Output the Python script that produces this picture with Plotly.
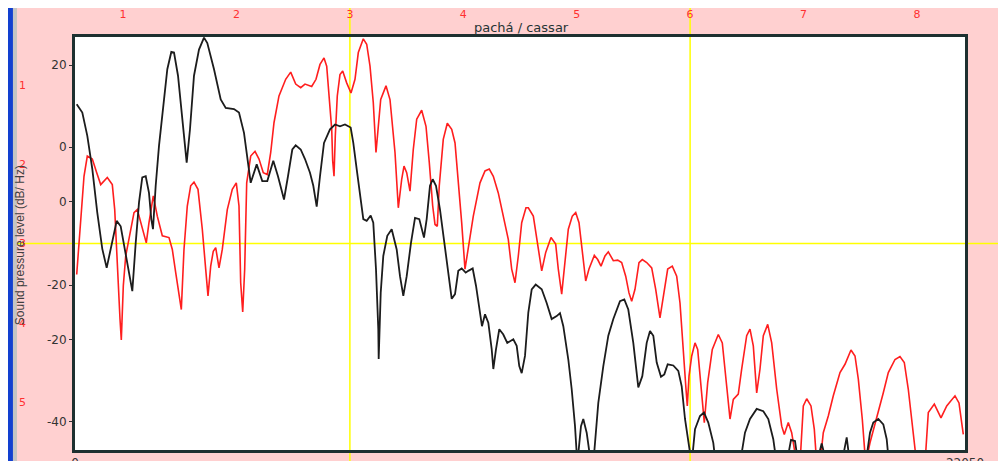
import plotly.graph_objects as go

# ---------------- data ----------------
freq_black = [42, 181, 305, 429, 552, 676, 785, 899, 1033, 1132, 1256, 1363, 1420, 1504, 1586, 1667, 1752, 1833,
              1890, 1932, 1999, 2081, 2163, 2287, 2386, 2453, 2552, 2658, 2767, 2849, 2948, 3072, 3196, 3278, 3444,
              3610, 3734, 3939, 4063, 4187, 4269, 4353, 4502, 4640, 4764, 4913, 5029, 5178, 5277, 5384, 5468, 5592,
              5698, 5822, 5904, 5988, 6070, 6169, 6318, 6442, 6565, 6689, 6830, 6895, 6979, 7061, 7143, 7227, 7326,
              7390, 7457, 7514, 7524, 7574, 7638, 7737, 7846, 7970, 8052, 8134, 8218, 8324, 8424, 8530, 8646, 8713,
              8795, 8862, 8944, 9043, 9142, 9224, 9333, 9415, 9496, 9580, 9680, 9744, 9853, 9935, 10017, 10083,
              10158, 10240, 10324, 10364, 10430, 10512, 10611, 10710, 10859, 10943, 11007, 11067, 11149, 11231,
              11315, 11414, 11563, 11686, 11810, 11934, 12016, 12098, 12222, 12306, 12388, 12445, 12536, 12593,
              12677, 12784, 12841, 12965, 13089, 13213, 13337, 13502, 13609, 13708, 13832, 13956, 14055, 14164,
              14246, 14328, 14412, 14518, 14600, 14684, 14823, 14947, 15031, 15113, 15212, 15279, 15361, 15484,
              15583, 15690, 15814, 15873, 16475, 16599, 16723, 16889, 17053, 17177, 17300, 17385, 17632, 17739,
              17838, 17920, 18376, 18499, 18623, 18995, 19119, 19201, 19589, 19696, 19778, 19902, 20026, 20110,
              20167, 22050]
level_black = [13.4, 12.0, 8.1, 2.5, -4.8, -10.9, -14.1, -10.4, -6.2, -7.1, -12.1, -16.0, -18.0, -9.9, -3.1, 1.1,
               1.3, -1.5, -5.9, -7.6, -0.3, 6.4, 12.0, 19.3, 22.2, 22.1, 18.2, 10.9, 3.6, 9.2, 18.2, 22.6, 24.6,
               23.7, 19.3, 14.2, 12.8, 12.6, 12.0, 8.6, 4.7, 0.2, 3.3, 0.5, 0.5, 3.9, 1.3, -2.6, 1.3, 5.8, 6.5, 5.8,
               4.2, 1.9, -0.3, -3.8, 1.3, 6.9, 9.2, 10.0, 9.7, 10.0, 9.5, 6.9, 2.5, -2.0, -5.9, -6.2, -5.3, -6.5,
               -14.3, -24.4, -29.4, -18.3, -12.1, -8.7, -7.6, -11.0, -15.5, -18.8, -15.5, -9.9, -5.7, -5.9, -9.0,
               -5.9, -0.3, 0.8, -0.3, -4.3, -9.3, -14.3, -19.3, -18.5, -14.6, -14.2, -14.9, -14.6, -14.2, -17.1,
               -21.1, -23.9, -21.9, -23.3, -27.8, -31.1, -27.8, -24.4, -25.3, -26.7, -26.1, -27.2, -30.6, -31.8,
               -28.9, -21.6, -17.7, -16.9, -17.7, -20.0, -22.7, -22.2, -21.7, -23.9, -29.5, -34.5, -40.7, -47,
               -40.7, -39.5, -41.8, -47, -47, -36.8, -30.6, -25.5, -22.7, -19.7, -19.4, -21.1, -26.7, -34.2, -32.3,
               -26.7, -24.7, -25.5, -30.0, -32.4, -32.0, -30.3, -30.5, -31.4, -34.0, -39.5, -44.0, -47, -41.2,
               -39.0, -38.4, -40.1, -43.5, -47, -47, -41.8, -39.5, -37.8, -38.2, -39.5, -42.9, -47, -47, -43.0,
               -43.2, -47, -47, -43.6, -47, -47, -42.6, -47, -47, -41.8, -40.1, -39.5, -40.4, -42.9, -47, -47]

freq_red = [42, 74, 141, 223, 305, 429, 538, 637, 800, 924, 984, 1048, 1115, 1147, 1197, 1256, 1363, 1462, 1543,
            1628, 1709, 1766, 1833, 1940, 2039, 2163, 2329, 2411, 2495, 2577, 2634, 2700, 2782, 2866, 2948, 3047,
            3154, 3238, 3295, 3362, 3426, 3486, 3568, 3649, 3773, 3897, 3996, 4063, 4105, 4155, 4204, 4254, 4353,
            4460, 4559, 4665, 4764, 4849, 4930, 5054, 5220, 5344, 5468, 5592, 5698, 5864, 5971, 6070, 6169, 6236,
            6300, 6360, 6384, 6417, 6449, 6498, 6565, 6632, 6731, 6838, 6937, 7019, 7143, 7227, 7309, 7390, 7457,
            7514, 7574, 7705, 7804, 7928, 8010, 8094, 8151, 8218, 8300, 8381, 8466, 8589, 8696, 8778, 8862, 8919,
            8976, 9025, 9124, 9224, 9333, 9415, 9496, 9580, 9662, 9744, 9868, 10034, 10158, 10264, 10364, 10487,
            10611, 10735, 10819, 10901, 10983, 11067, 11173, 11231, 11355, 11463, 11563, 11662, 11793, 11909,
            11974, 12058, 12140, 12222, 12321, 12405, 12487, 12569, 12653, 12734, 12866, 12950, 13032, 13131,
            13213, 13337, 13445, 13544, 13644, 13725, 13792, 13874, 13973, 14055, 14164, 14288, 14387, 14493,
            14575, 14684, 14798, 14907, 14989, 15071, 15138, 15170, 15212, 15279, 15361, 15427, 15509, 15591,
            15675, 15789, 15938, 16037, 16146, 16228, 16310, 16433, 16517, 16641, 16723, 16805, 16889, 16971,
            17053, 17162, 17261, 17385, 17509, 17573, 17672, 17756, 17880, 17962, 18044, 18128, 18234, 18316,
            18376, 18457, 18539, 18663, 18787, 18953, 19077, 19225, 19325, 19407, 19505, 19589, 19696, 19862,
            20026, 20150, 20316, 20439, 20546, 20645, 20769, 20853, 21059, 21141, 21290, 21455, 21597, 21802,
            21901, 22008]
level_red = [-15.2, -12.1, -6.5, 1.3, 4.7, 4.2, 1.9, -0.1, 1.1, -0.1, -4.3, -14.3, -22.7, -26.2, -17.1, -12.1,
             -8.2, -4.8, -4.3, -6.5, -8.7, -9.9, -6.5, -2.0, -5.4, -8.7, -9.0, -11.0, -14.9, -18.8, -21.1, -11.0,
             -3.7, -0.3, 0.3, -0.9, -7.6, -14.3, -18.8, -13.8, -11.3, -10.7, -14.1, -11.0, -4.3, -0.9, 0.2, -3.7,
             -16.6, -21.5, -14.3, 0.2, 4.7, 5.5, 4.2, 1.9, 1.6, 5.3, 10.3, 14.8, 17.6, 18.8, 16.8, 16.2, 16.8,
             16.4, 17.6, 20.1, 21.2, 19.8, 14.8, 9.2, 3.9, 1.3, 8.1, 14.8, 18.4, 19.0, 17.0, 15.3, 17.6, 22.1,
             24.4, 23.5, 19.8, 13.7, 5.3, 9.2, 14.2, 16.5, 14.2, 5.3, -4.0, 0.8, 3.0, 1.9, -1.2, 5.8, 10.9, 12.4,
             9.7, 3.6, -3.7, -6.8, -7.1, -0.3, 7.5, 10.2, 9.2, 6.9, 0.8, -6.5, -14.3, -10.4, -5.4, 0.2, 2.2, 2.5,
             1.3, -1.5, -5.4, -9.3, -14.3, -16.6, -12.1, -6.5, -4.0, -4.0, -5.4, -9.9, -14.6, -11.5, -9.0, -10.1,
             -14.3, -18.5, -13.2, -7.6, -5.4, -4.8, -6.5, -11.0, -16.3, -14.3, -12.0, -12.7, -13.8, -12.1, -11.4,
             -12.9, -12.8, -13.2, -15.5, -18.3, -19.7, -17.7, -13.2, -12.7, -13.2, -14.1, -17.7, -22.5, -18.8,
             -14.3, -13.8, -15.5, -20.0, -28.9, -34.5, -37.3, -32.3, -28.9, -26.7, -27.8, -34.0, -40.1, -33.4,
             -27.8, -25.3, -26.7, -34.0, -39.5, -36.2, -35.3, -31.1, -25.5, -24.4, -27.2, -35.1, -31.1, -25.5,
             -23.6, -26.7, -34.5, -40.7, -42.1, -40.1, -41.8, -47, -47, -37.3, -36.1, -37.3, -41.2, -47, -47,
             -41.8, -39.0, -35.6, -31.7, -30.3, -27.9, -28.9, -32.8, -39.5, -47, -43.5, -39.5, -35.1, -31.7,
             -29.5, -29.0, -30.0, -34.5, -41.2, -47, -47, -38.4, -37.0, -39.3, -37.3, -35.6, -36.8, -42.1]

assert len(freq_black) == len(level_black), (len(freq_black), len(level_black))
assert len(freq_red) == len(level_red), (len(freq_red), len(level_red))

# axis labels
x_tickvals = [0, 22050]
x_ticktext = ["0", "22050"]
y_tickvals = [20, 6.2, -3.0, -17.0, -26.2, -40]
y_ticktext = ["20", "0", "0", "-20", "-20", "-40"]
top_tickvals = [1, 2, 3, 4, 5, 6, 7, 8]
top_ticktext = ["1", "2", "3", "4", "5", "6", "7", "8"]
left2_tickvals = [1, 2, 3, 4, 5]
left2_ticktext = ["1", "2", "3", "4", "5"]
cursor_top = [3, 6]        # vertical cursors on the top scale
cursor_left2 = 3           # horizontal cursor on the red left scale

title_text = "pachá / cassar"
y_title = "Sound pressure level (dB/ Hz)"

# ---------------- figure ----------------
PINK = "#ffd0d0"
FRAME = "#1e3030"
RED = "#ff1e1e"
YELLOW = "#ffff00"

fig = go.Figure()
fig.add_trace(go.Scatter(x=freq_red, y=level_red, mode="lines",
                         line=dict(color=RED, width=1.6), hoverinfo="skip", showlegend=False))
fig.add_trace(go.Scatter(x=freq_black, y=level_black, mode="lines",
                         line=dict(color="#1c1c1c", width=1.8), hoverinfo="skip", showlegend=False))
# empty traces that only bind the secondary scales
fig.add_trace(go.Scatter(x=[], y=[], xaxis="x2", yaxis="y", hoverinfo="skip", showlegend=False))
fig.add_trace(go.Scatter(x=[], y=[], xaxis="x", yaxis="y2", hoverinfo="skip", showlegend=False))

shapes = []
# window decoration (blue strip at the left)
shapes += [
    dict(type="rect", xref="paper", yref="paper", x0=-0.12, x1=-0.0697, y0=-0.2, y1=1.2,
         fillcolor="#1240d0", line=dict(width=0), layer="below"),
    dict(type="rect", xref="paper", yref="paper", x0=-0.0697, x1=-0.0652, y0=-0.2, y1=1.2,
         fillcolor="#c4c4c4", line=dict(width=0), layer="below"),
]
for v in cursor_top:
    shapes.append(dict(type="line", xref="x2", yref="paper", x0=v, x1=v, y0=-0.1, y1=1.2,
                       line=dict(color=YELLOW, width=1.5), layer="below"))
shapes.append(dict(type="line", xref="paper", yref="y2", x0=-0.0652, x1=1.1, y0=cursor_left2, y1=cursor_left2,
                   line=dict(color=YELLOW, width=1.5), layer="below"))

fig.update_layout(
    width=1006, height=461, autosize=False,
    margin=dict(l=67, r=49, t=29, b=19, pad=0),
    paper_bgcolor=PINK, plot_bgcolor="white",
    font=dict(family="DejaVu Sans", size=11, color="#333333"),
    showlegend=False,
    shapes=shapes,
    xaxis=dict(range=[0, 22050], tickvals=x_tickvals, ticktext=x_ticktext,
               showline=True, mirror=True, linecolor=FRAME, linewidth=3,
               showgrid=False, zeroline=False, ticks="", automargin=False,
               tickfont=dict(size=12, color="#333333")),
    yaxis=dict(range=[-44.71, 24.71], tickvals=y_tickvals, ticktext=y_ticktext,
               showline=True, mirror=True, linecolor=FRAME, linewidth=3,
               showgrid=False, zeroline=False, ticks="outside", ticklen=3, tickcolor="#333333",
               automargin=False, tickfont=dict(size=12, color="#333333")),
    xaxis2=dict(overlaying="x", side="top", anchor="y", range=[0.576, 8.424],
                tickvals=top_tickvals, ticktext=top_ticktext, ticks="",
                showline=False, showgrid=False, zeroline=False, automargin=False,
                ticklabelstandoff=16, tickfont=dict(size=11, color="#ff3030")),
    yaxis2=dict(overlaying="y", side="left", anchor="x", range=[5.606, 0.394],
                tickvals=left2_tickvals, ticktext=left2_ticktext, ticks="",
                showline=False, showgrid=False, zeroline=False, automargin=False,
                ticklabelstandoff=48, tickfont=dict(size=11, color="#ff3030")),
    annotations=[
        dict(text=title_text, xref="paper", yref="paper", x=0.502, y=1.024,
             xanchor="center", yanchor="middle", showarrow=False,
             font=dict(size=13, color="#263434")),
        dict(text=y_title, xref="paper", yref="paper", x=-0.0618, y=0.496,
             xanchor="center", yanchor="middle", showarrow=False, textangle=-90,
             font=dict(family="Liberation Sans", size=12, color="#404040")),
    ],
)

fig.write_html("out.html")
